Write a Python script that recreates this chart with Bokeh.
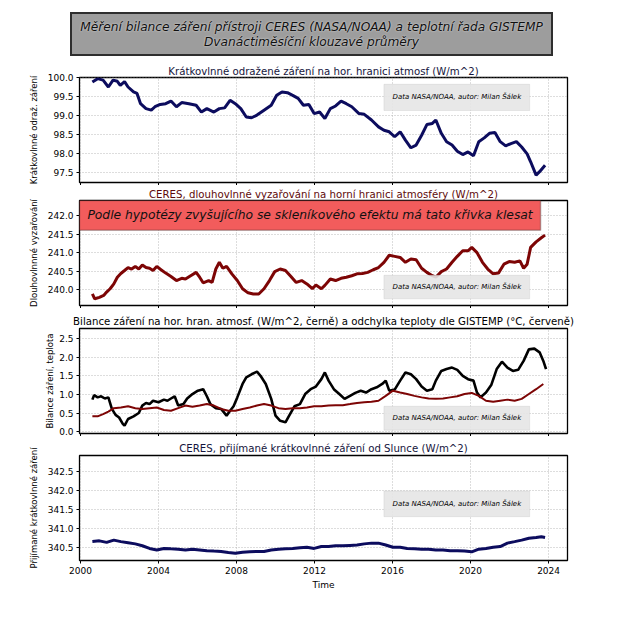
from bokeh.plotting import figure
from bokeh.models import (Div, FixedTicker, NumeralTickFormatter, BoxAnnotation,
                          Label, Range1d, CustomLabelingPolicy)
from bokeh.layouts import column
from bokeh.embed import file_html
from bokeh.resources import INLINE

# ---------------- data ----------------
main_title_1 = "Měření bilance záření přístroji CERES (NASA/NOAA) a teplotní řada GISTEMP"
main_title_2 = "Dvanáctiměsíční klouzavé průměry"
credit = "Data NASA/NOAA, autor: Milan Šálek"
note = "Podle hypotézy zvyšujícího se skleníkového efektu má tato křivka klesat"

x_ticks = [2000, 2004, 2008, 2012, 2016, 2020, 2024]

titles = [
    "Krátkovlnné odražené záření na hor. hranici atmosf (W/m^2)",
    "CERES, dlouhovlnné vyzařování na horní hranici atmosféry (W/m^2)",
    "Bilance záření na hor. hran. atmosf. (W/m^2, černě) a odchylka teploty dle GISTEMP (°C, červeně)",
    "CERES, přijímané krátkovlnné záření od Slunce (W/m^2)",
]
ylabels = [
    "Krátkovlnné odraž. záření",
    "Dlouhovlnnné vyzařování",
    "Bilance záření, teplota",
    "Přijímané krátkovlnné záření",
]
y_ticks = [
    [97.5, 98.0, 98.5, 99.0, 99.5, 100.0],
    [240.0, 240.5, 241.0, 241.5, 242.0],
    [0.0, 0.5, 1.0, 1.5, 2.0, 2.5],
    [340.5, 341.0, 341.5, 342.0, 342.5],
]

# reflected shortwave
sw_years = [2000.61, 2000.88, 2001.16, 2001.43, 2001.67, 2001.89, 2002.04, 2002.26, 2002.44, 2002.72,
            2002.90, 2003.08, 2003.36, 2003.63, 2003.82, 2004.09, 2004.37, 2004.64, 2004.92, 2005.19,
            2005.56, 2005.93, 2006.20, 2006.48, 2006.84, 2007.12, 2007.39, 2007.67, 2007.94, 2008.22,
            2008.50, 2008.77, 2009.05, 2009.41, 2009.78, 2010.06, 2010.33, 2010.61, 2010.88, 2011.16,
            2011.43, 2011.71, 2011.98, 2012.26, 2012.53, 2012.81, 2013.08, 2013.36, 2013.63, 2013.91,
            2014.28, 2014.55, 2014.92, 2015.28, 2015.56, 2015.83, 2016.11, 2016.39, 2016.66, 2016.94,
            2017.21, 2017.49, 2017.76, 2018.04, 2018.22, 2018.50, 2018.77, 2019.05, 2019.32, 2019.60,
            2019.87, 2020.15, 2020.42, 2020.70, 2020.97, 2021.25, 2021.52, 2021.80, 2022.07, 2022.35,
            2022.62, 2022.90, 2023.08, 2023.36, 2023.54, 2023.82]
sw_vals = [99.89, 99.98, 99.94, 99.76, 99.94, 99.91, 99.80, 99.90, 99.76, 99.63,
           99.59, 99.32, 99.19, 99.15, 99.24, 99.30, 99.32, 99.39, 99.24, 99.35,
           99.32, 99.28, 99.10, 99.19, 99.10, 99.19, 99.21, 99.41, 99.32, 99.19,
           98.97, 98.95, 99.02, 99.15, 99.28, 99.54, 99.63, 99.61, 99.54, 99.46,
           99.28, 99.30, 99.06, 99.10, 98.93, 99.19, 99.26, 99.39, 99.32, 99.24,
           99.06, 99.04, 98.89, 98.71, 98.62, 98.58, 98.45, 98.58, 98.36, 98.16,
           98.23, 98.49, 98.77, 98.80, 98.89, 98.54, 98.32, 98.23, 98.07, 97.98,
           98.05, 97.95, 98.32, 98.42, 98.54, 98.56, 98.32, 98.21, 98.27, 98.32,
           98.18, 98.00, 97.79, 97.44, 97.53, 97.70]

# outgoing longwave
lw_years = [2000.61, 2000.73, 2000.97, 2001.19, 2001.34, 2001.52, 2001.71, 2001.89, 2002.07, 2002.26,
            2002.44, 2002.62, 2002.81, 2002.99, 2003.17, 2003.36, 2003.54, 2003.72, 2003.91, 2004.13,
            2004.37, 2004.64, 2004.92, 2005.19, 2005.38, 2005.65, 2005.93, 2006.11, 2006.29, 2006.57,
            2006.75, 2006.94, 2007.12, 2007.30, 2007.49, 2007.76, 2008.04, 2008.31, 2008.59, 2008.86,
            2009.14, 2009.41, 2009.69, 2009.96, 2010.24, 2010.51, 2010.79, 2011.06, 2011.34, 2011.61,
            2011.89, 2012.07, 2012.35, 2012.53, 2012.81, 2013.08, 2013.36, 2013.63, 2013.91, 2014.18,
            2014.46, 2014.73, 2015.01, 2015.28, 2015.56, 2015.83, 2016.11, 2016.39, 2016.66, 2016.94,
            2017.21, 2017.49, 2017.76, 2018.04, 2018.22, 2018.50, 2018.77, 2019.05, 2019.32, 2019.60,
            2019.87, 2020.06, 2020.33, 2020.61, 2020.88, 2021.16, 2021.43, 2021.71, 2021.98, 2022.26,
            2022.53, 2022.72, 2022.90, 2023.08, 2023.36, 2023.63, 2023.82]
lw_vals = [239.89, 239.76, 239.80, 239.85, 239.94, 240.03, 240.16, 240.34, 240.44, 240.52,
           240.60, 240.56, 240.63, 240.56, 240.67, 240.60, 240.58, 240.52, 240.63, 240.54,
           240.45, 240.36, 240.25, 240.31, 240.29, 240.38, 240.47, 240.34, 240.19, 240.25,
           240.20, 240.56, 240.74, 240.58, 240.63, 240.43, 240.25, 240.03, 239.92, 239.89,
           239.89, 240.03, 240.25, 240.49, 240.56, 240.52, 240.36, 240.20, 240.25, 240.16,
           240.03, 240.13, 240.03, 240.12, 240.29, 240.25, 240.31, 240.34, 240.38, 240.43,
           240.44, 240.47, 240.54, 240.60, 240.74, 240.93, 240.90, 240.87, 240.74, 240.83,
           240.81, 240.58, 240.47, 240.38, 240.34, 240.49, 240.56, 240.74, 240.90, 241.05,
           241.05, 241.14, 241.00, 240.74, 240.56, 240.43, 240.45, 240.69, 240.76, 240.74,
           240.78, 240.58, 240.69, 241.14, 241.29, 241.40, 241.47]

# net radiation balance (black)
net_years = [2000.61, 2000.70, 2000.88, 2001.06, 2001.25, 2001.43, 2001.61, 2001.80, 2001.98, 2002.17,
             2002.26, 2002.44, 2002.72, 2002.99, 2003.17, 2003.36, 2003.54, 2003.72, 2004.00, 2004.28,
             2004.46, 2004.64, 2004.83, 2005.01, 2005.28, 2005.47, 2005.74, 2006.02, 2006.29, 2006.48,
             2006.66, 2006.94, 2007.21, 2007.49, 2007.67, 2007.85, 2008.04, 2008.31, 2008.50, 2008.77,
             2009.05, 2009.23, 2009.50, 2009.78, 2010.00, 2010.24, 2010.51, 2010.70, 2010.97, 2011.25,
             2011.52, 2011.80, 2012.07, 2012.35, 2012.53, 2012.72, 2012.99, 2013.27, 2013.54, 2013.82,
             2014.09, 2014.37, 2014.64, 2014.92, 2015.19, 2015.47, 2015.65, 2015.83, 2016.11, 2016.39,
             2016.66, 2016.94, 2017.21, 2017.49, 2017.76, 2018.04, 2018.22, 2018.50, 2018.77, 2019.05,
             2019.32, 2019.60, 2019.87, 2020.15, 2020.33, 2020.51, 2020.79, 2021.06, 2021.34, 2021.61,
             2021.89, 2022.17, 2022.44, 2022.72, 2022.99, 2023.27, 2023.54, 2023.73, 2023.87]
net_vals = [0.86, 0.98, 0.92, 0.95, 0.89, 0.92, 0.61, 0.45, 0.38, 0.21,
            0.16, 0.34, 0.41, 0.50, 0.70, 0.77, 0.74, 0.83, 0.79, 0.86,
            0.83, 0.89, 0.95, 0.70, 0.74, 0.89, 1.01, 1.10, 1.14, 0.95,
            0.74, 0.63, 0.61, 0.43, 0.56, 0.68, 0.92, 1.28, 1.46, 1.54,
            1.61, 1.50, 1.28, 0.88, 0.43, 0.29, 0.25, 0.43, 0.68, 0.74,
            1.01, 1.14, 1.21, 1.41, 1.59, 1.37, 1.14, 1.01, 0.88, 0.96,
            1.04, 1.10, 1.05, 1.14, 1.19, 1.28, 1.37, 1.10, 1.13, 1.37,
            1.59, 1.54, 1.41, 1.21, 1.10, 1.14, 1.37, 1.63, 1.68, 1.72,
            1.66, 1.50, 1.41, 1.37, 1.05, 0.92, 1.05, 1.25, 1.68, 1.88,
            1.72, 1.63, 1.66, 1.90, 2.21, 2.23, 2.13, 1.90, 1.68]

# GISTEMP temperature anomaly (dark red)
temp_years = [2000.61, 2000.88, 2001.16, 2001.43, 2001.71, 2002.07, 2002.44, 2002.81, 2003.17, 2003.54,
              2003.91, 2004.28, 2004.64, 2005.01, 2005.38, 2005.74, 2006.11, 2006.48, 2006.84, 2007.21,
              2007.58, 2007.94, 2008.31, 2008.68, 2009.05, 2009.41, 2009.78, 2010.15, 2010.51, 2010.88,
              2011.25, 2011.61, 2011.98, 2012.35, 2012.72, 2013.08, 2013.45, 2013.82, 2014.18, 2014.55,
              2014.92, 2015.28, 2015.65, 2016.02, 2016.39, 2016.75, 2017.12, 2017.49, 2017.85, 2018.22,
              2018.59, 2018.95, 2019.32, 2019.69, 2020.06, 2020.42, 2020.79, 2021.16, 2021.52, 2021.89,
              2022.26, 2022.62, 2022.99, 2023.36, 2023.73]
temp_vals = [0.41, 0.41, 0.47, 0.54, 0.63, 0.65, 0.68, 0.63, 0.61, 0.63,
             0.65, 0.58, 0.56, 0.63, 0.70, 0.67, 0.70, 0.74, 0.70, 0.61,
             0.56, 0.56, 0.61, 0.65, 0.70, 0.74, 0.70, 0.63, 0.61, 0.63,
             0.63, 0.65, 0.68, 0.68, 0.70, 0.71, 0.71, 0.74, 0.77, 0.79,
             0.80, 0.83, 0.96, 1.10, 1.05, 1.01, 0.96, 0.92, 0.89, 0.88,
             0.89, 0.92, 0.95, 1.01, 1.04, 0.96, 0.83, 0.80, 0.83, 0.86,
             0.83, 0.88, 1.01, 1.14, 1.28]

# incoming solar
sol_years = [2000.61, 2000.97, 2001.34, 2001.71, 2002.07, 2002.44, 2002.81, 2003.17, 2003.54, 2003.91,
             2004.28, 2004.64, 2005.01, 2005.38, 2005.74, 2006.11, 2006.48, 2006.84, 2007.21, 2007.58,
             2007.94, 2008.31, 2008.68, 2009.05, 2009.41, 2009.78, 2010.15, 2010.51, 2010.88, 2011.25,
             2011.61, 2011.98, 2012.35, 2012.72, 2013.08, 2013.45, 2013.82, 2014.18, 2014.55, 2014.92,
             2015.28, 2015.65, 2016.02, 2016.39, 2016.75, 2017.12, 2017.49, 2017.85, 2018.22, 2018.59,
             2018.95, 2019.32, 2019.69, 2020.06, 2020.42, 2020.79, 2021.16, 2021.52, 2021.89, 2022.26,
             2022.62, 2022.99, 2023.36, 2023.63, 2023.82]
sol_vals = [340.65, 340.67, 340.63, 340.69, 340.65, 340.62, 340.59, 340.54, 340.47, 340.43,
            340.47, 340.46, 340.45, 340.43, 340.45, 340.43, 340.41, 340.40, 340.39, 340.36,
            340.34, 340.37, 340.38, 340.39, 340.39, 340.43, 340.45, 340.46, 340.47, 340.49,
            340.50, 340.47, 340.52, 340.52, 340.54, 340.54, 340.55, 340.56, 340.59, 340.61,
            340.61, 340.56, 340.50, 340.50, 340.47, 340.46, 340.45, 340.45, 340.43, 340.43,
            340.41, 340.41, 340.40, 340.38, 340.45, 340.47, 340.50, 340.52, 340.61, 340.65,
            340.69, 340.74, 340.76, 340.78, 340.76]

# ---------------- styling ----------------
FONT = "DejaVu Sans"
NAVY = "#0c0c5e"
MAROON = "#7d0505"
X_START, X_END = 1999.95, 2024.97
FRAME_W, FRAME_H = 488, 105

NO_LABELS = CustomLabelingPolicy(code="""
for (const i of indices) {
    indices.unset(i)
}
return indices
""")


def make_panel(idx, y_start, y_end, title_color, top, bottom, last=False, standoff=1,
               label_standoff=6):
    p = figure(output_backend="svg", toolbar_location=None,
               frame_width=FRAME_W, frame_height=FRAME_H,
               x_range=Range1d(X_START, X_END), y_range=Range1d(y_start, y_end),
               min_border_left=79, min_border_right=40,
               min_border_top=top, min_border_bottom=bottom,
               title=titles[idx])
    p.title.text_font = FONT
    p.title.text_font_size = "10.2px"
    p.title.text_font_style = "normal"
    p.title.text_color = title_color
    p.title.align = "center"
    p.title.standoff = standoff
    p.background_fill_color = "white"
    p.border_fill_color = "white"
    p.outline_line_color = "black"
    p.outline_line_width = 1.3
    p.outline_line_alpha = 1.0

    for g in (p.xgrid[0], p.ygrid[0]):
        g.grid_line_color = "#a8a8a8"
        g.grid_line_dash = "1 2"
        g.grid_line_width = 0.8
    p.xaxis.ticker = FixedTicker(ticks=x_ticks)
    p.yaxis.ticker = FixedTicker(ticks=y_ticks[idx])
    p.yaxis.formatter = NumeralTickFormatter(format="0.0")
    for ax in (p.xaxis[0], p.yaxis[0]):
        ax.axis_line_color = None
        ax.major_tick_out = 3
        ax.major_tick_in = 0
        ax.minor_tick_out = 0
        ax.minor_tick_in = 0
        ax.major_tick_line_color = "black"
        ax.major_label_text_font = FONT
        ax.major_label_text_font_size = "9px"
        ax.major_label_text_color = "black"
        ax.axis_label_text_font = FONT
        ax.axis_label_text_font_size = "8.5px"
        ax.axis_label_text_font_style = "normal"
        ax.axis_label_text_color = "black"
    p.yaxis.major_label_standoff = 3
    p.yaxis.axis_label = ylabels[idx]
    p.yaxis.axis_label_standoff = label_standoff
    if last:
        p.xaxis.axis_label = "Time"
        p.xaxis.axis_label_text_font_size = "9px"
        p.xaxis.major_label_standoff = 3
        p.xaxis.axis_label_standoff = 3
    else:
        p.xaxis.major_label_policy = NO_LABELS
        p.xaxis.major_label_text_font_size = "0px"
        p.xaxis.major_label_standoff = 0
    return p


def add_credit(p, y_bottom, y_top):
    p.add_layout(BoxAnnotation(left=2015.56, right=2023.03, bottom=y_bottom, top=y_top,
                               fill_color="#e6e6e6", fill_alpha=0.9,
                               line_color="#bcbcbc", line_width=1))
    p.add_layout(Label(x=2019.3, y=(y_bottom + y_top) / 2, text=credit,
                       text_font=FONT, text_font_size="7px", text_font_style="italic",
                       text_color="black", text_align="center", text_baseline="middle"))


header = Div(
    text=("<div style=\"width:483px;height:44px;box-sizing:border-box;"
          "background:#9d9d9d;border:2px solid #2e2e2e;text-align:center;"
          "font-family:'DejaVu Sans';font-style:italic;font-size:12.2px;line-height:15px;"
          "padding-top:6px;color:#101010;text-shadow:0 0 2px #e8e8e8;\">"
          + main_title_1 + "<br>" + main_title_2 + "</div>"),
    width=483, height=44, margin=(12, 0, 0, 70))

# panel 1
p1 = make_panel(0, 97.245, 100.01, "#14143c", 21, 0)
p1.line(sw_years, sw_vals, line_color=NAVY, line_width=3)
add_credit(p1, 99.14, 99.83)

# panel 2
p2 = make_panel(1, 239.58, 242.4, "#5e0a0a", 15, 0)
p2.line(lw_years, lw_vals, line_color=MAROON, line_width=3)
p2.add_layout(BoxAnnotation(left=X_START, right=2023.59, bottom=241.6, top=242.4,
                            fill_color="#f25c5c", fill_alpha=1.0,
                            line_color="#222222", line_width=1.5))
p2.add_layout(Label(x=2011.77, y=242.0, text=note, text_font=FONT,
                    text_font_size="12.3px", text_font_style="italic",
                    text_color="#111111", text_align="center", text_baseline="middle"))
add_credit(p2, 239.76, 240.39)

# panel 3
p3 = make_panel(2, -0.05, 2.77, "black", 20, 0, standoff=3, label_standoff=1)
p3.line(net_years, net_vals, line_color="black", line_width=2.6)
p3.line(temp_years, temp_vals, line_color=MAROON, line_width=2)
add_credit(p3, 0.04, 0.68)

# panel 4
p4 = make_panel(3, 340.15, 342.93, "#14143c", 19, 10, last=True, standoff=4)
p4.line(sol_years, sol_vals, line_color=NAVY, line_width=3)
add_credit(p4, 341.31, 341.99)

layout = column(header, p1, p2, p3, p4, spacing=0)

open("out.html", "w").write(file_html(layout, INLINE))
